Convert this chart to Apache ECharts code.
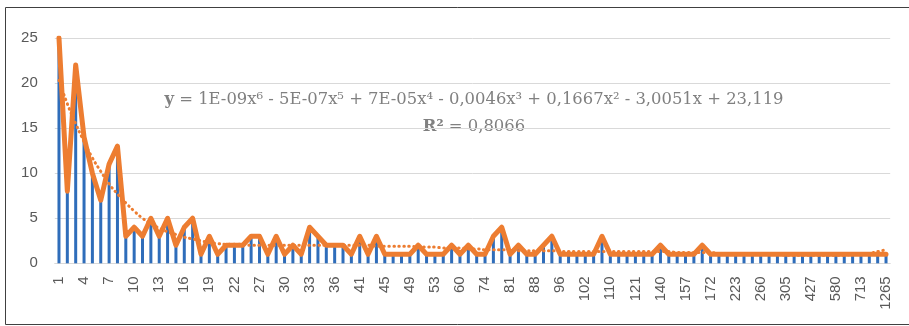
<!DOCTYPE html>
<html>
<head>
<meta charset="utf-8">
<script src="https://cdn.jsdelivr.net/npm/echarts@6/dist/echarts.min.js"></script>
<style>
html,body{margin:0;padding:0;background:#fff;}
#c{width:909px;height:326px;}
</style>
</head>
<body>
<div id="c"></div>
<script>
const categories = [1,2,3,4,5,6,7,8,9,10,11,12,13,14,15,16,17,18,19,20,21,22,
  24,25,27,28,29,30,31,32,33,34,35,36,38,39,41,42,43,45,46,47,49,50,51,53,
  55,57,60,63,69,74,76,78,81,83,85,88,90,93,96,98,100,102,105,108,110,
  113,117,121,127,134,140,145,150,157,162,167,172,180,200,223,235,248,260,
  275,290,305,340,380,427,470,520,580,620,670,713,800,1000,1265];

const values = [25,8,22,14,10,7,11,13,3,4,
  3,5,3,5,2,4,5,1,3,1,
  2,2,2,3,3,1,3,1,2,1,
  4,3,2,2,2,1,3,1,3,1,
  1,1,1,2,1,1,1,2,1,2,
  1,1,3,4,1,2,1,1,2,3,
  1,1,1,1,1,3,1,1,1,1,
  1,1,2,1,1,1,1,2,1,1,
  1,1,1,1,1,1,1,1,1,1,
  1,1,1,1,1,1,1,1,1,1];

const trendValues = [20.3,17.7,15.5,13.5,11.7,10.2,8.8,7.7,6.7,5.8,
  5.0,4.4,3.9,3.5,3.2,2.9,2.7,2.5,2.3,2.2,
  2.1,2.1,2.1,2.0,2.0,2.0,2.0,2.0,2.0,2.0,
  2.0,2.0,2.0,2.0,2.0,2.0,2.0,2.0,1.9,1.9,
  1.9,1.9,1.9,1.8,1.8,1.8,1.7,1.7,1.7,1.6,
  1.6,1.5,1.5,1.5,1.5,1.4,1.4,1.4,1.4,1.4,
  1.3,1.3,1.3,1.3,1.3,1.3,1.3,1.3,1.3,1.3,
  1.3,1.3,1.3,1.3,1.2,1.2,1.2,1.2,1.2,1.1,
  1.1,1.1,1.1,1.0,1.0,1.0,1.0,0.9,0.9,0.9,
  0.9,0.9,0.9,0.9,0.9,1.0,1.0,1.1,1.3,1.5];

const equationText = '{b|y} = 1E-09x⁶ - 5E-07x⁵ + 7E-05x⁴ - 0,0046x³ + 0,1667x² - 3,0051x + 23,119';
const r2Text = '{b|R²} = 0,8066';

const chart = echarts.init(document.getElementById('c'), null, {renderer: 'canvas'});
const serif = '"DejaVu Serif", "Liberation Serif", serif';
const textColor = '#808080';
const orange = '#ED7D31';

chart.setOption({
  animation: false,
  backgroundColor: '#fff',
  grid: {left: 54.8, right: 18.8, top: 38, bottom: 62.7, containLabel: false},
  xAxis: {
    type: 'category',
    data: categories,
    boundaryGap: true,
    axisLine: {lineStyle: {color: '#D9D9D9', width: 1}},
    axisTick: {show: false},
    axisLabel: {interval: 2, rotate: 90, color: '#595959', fontSize: 15,
      fontFamily: '"Liberation Sans", sans-serif', margin: 13}
  },
  yAxis: {
    type: 'value', min: 0, max: 25, interval: 5,
    axisLine: {show: false}, axisTick: {show: false},
    splitLine: {lineStyle: {color: '#D9D9D9', width: 1}},
    axisLabel: {color: '#595959', fontSize: 15, fontFamily: '"Liberation Sans", sans-serif', margin: 17}
  },
  series: [
    {type: 'bar', data: values, barWidth: 3, itemStyle: {color: '#2F6DBA'}, silent: true},
    {type: 'line', data: values, symbol: 'none', lineStyle: {color: orange, width: 5, join: 'round', cap: 'round'}, silent: true},
    {type: 'line', data: trendValues, symbol: 'none', smooth: true,
      lineStyle: {color: orange, width: 3, type: [0.5, 4.5], cap: 'round'}, silent: true}
  ],
  graphic: [
    {type: 'rect', shape: {x: 5.5, y: 7.5, width: 920, height: 317}, style: {fill: 'none', stroke: '#404040', lineWidth: 1}, silent: true},
    {type: 'text', x: 474, y: 100, style: {text: equationText, font: '16.4px ' + serif, fill: textColor,
      align: 'center', verticalAlign: 'middle',
      rich: {b: {fontWeight: 'bold', fontSize: 16.4, fontFamily: serif, fill: textColor, color: textColor}}}, silent: true},
    {type: 'text', x: 474, y: 127, style: {text: r2Text, font: '16.4px ' + serif, fill: textColor,
      align: 'center', verticalAlign: 'middle',
      rich: {b: {fontWeight: 'bold', fontSize: 16.4, fontFamily: serif, fill: textColor, color: textColor}}}, silent: true}
  ]
});
</script>
</body>
</html>
